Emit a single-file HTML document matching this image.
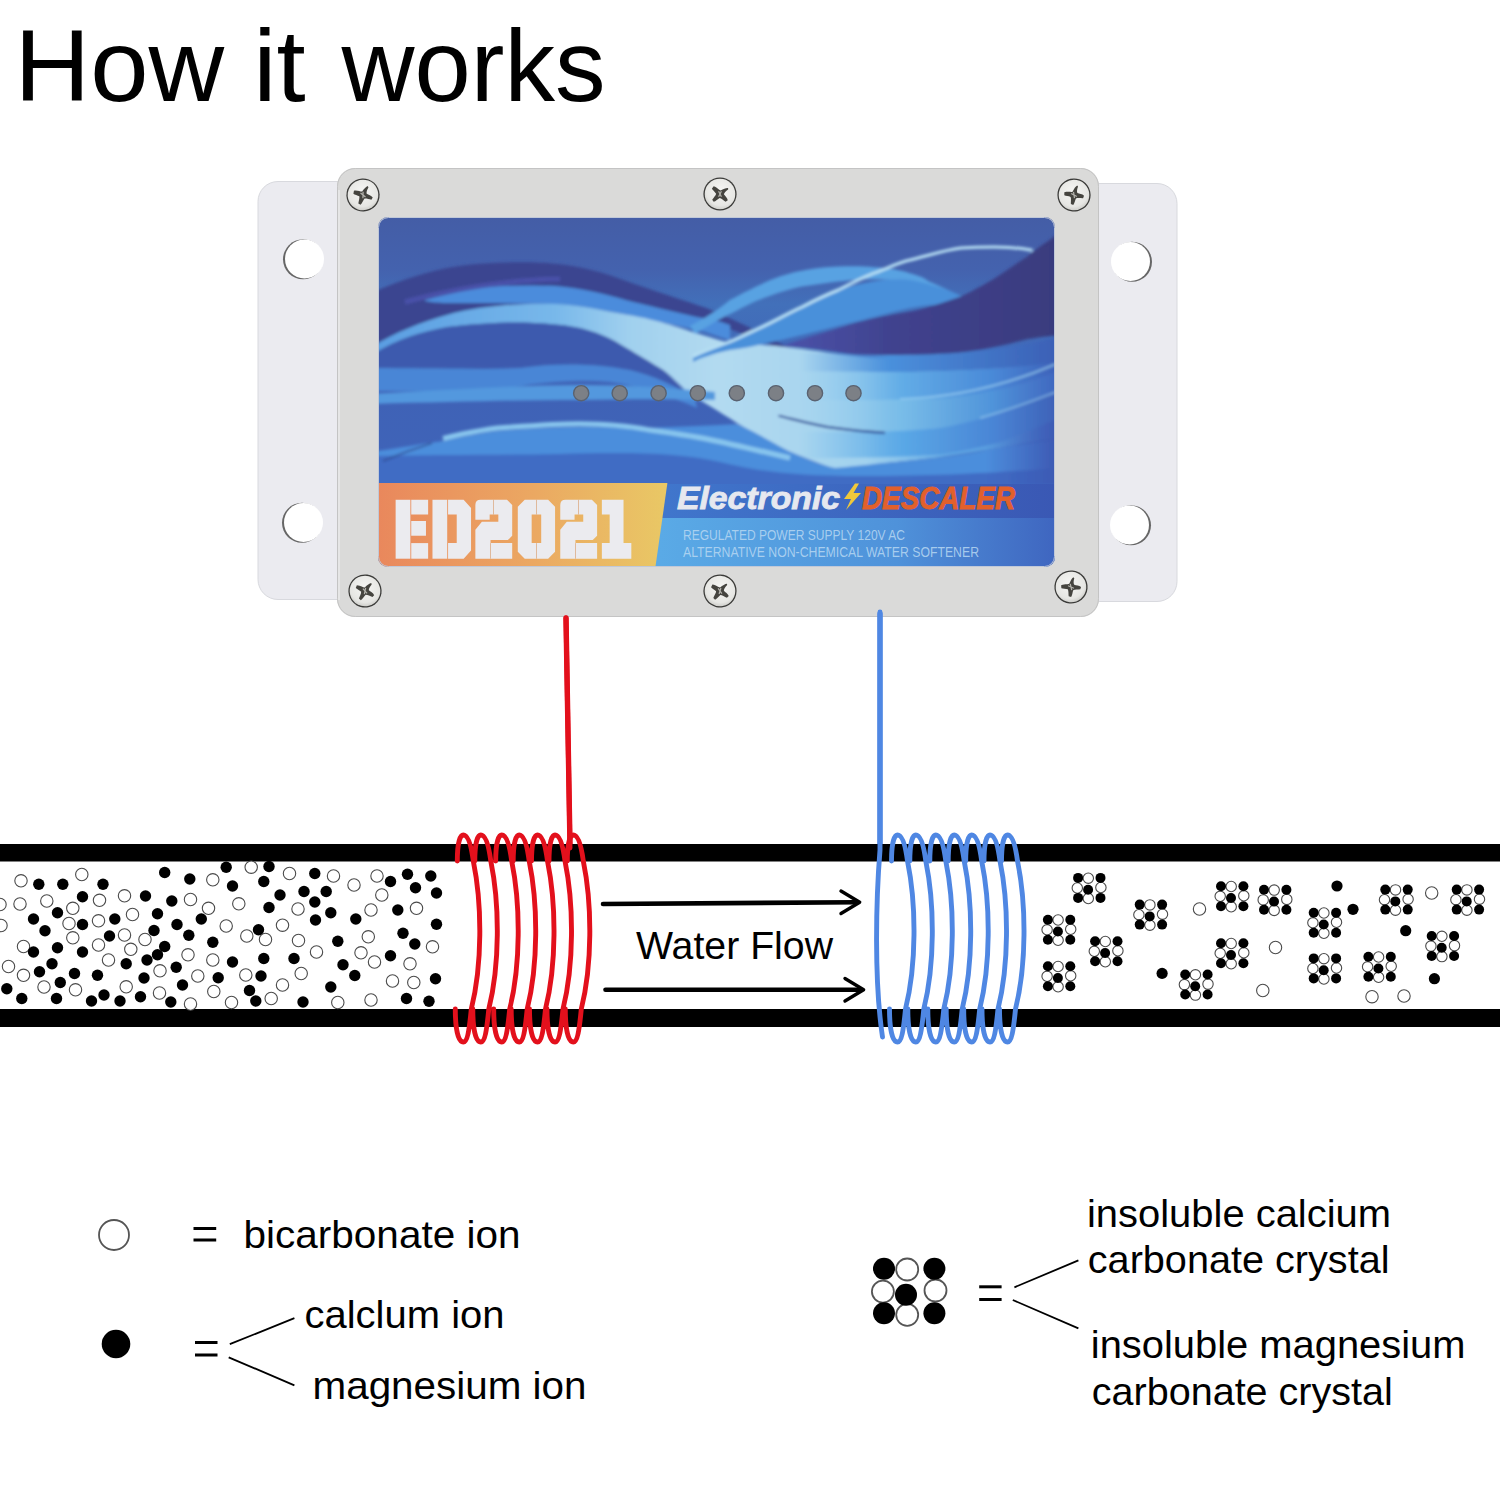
<!DOCTYPE html><html><head><meta charset="utf-8"><style>html,body{margin:0;padding:0;background:#fff;width:1500px;height:1500px;overflow:hidden}svg{display:block}text{font-family:"Liberation Sans",sans-serif}</style></head><body>
<svg width="1500" height="1500" viewBox="0 0 1500 1500">
<defs>
<g id="cr">
<g fill="#fff" stroke="#4a4a4a" stroke-width="1.1">
<circle cx="10.2" cy="0.3" r="5.2"/><circle cx="-0.8" cy="10.1" r="5.2"/><circle cx="22.8" cy="9.6" r="5.2"/><circle cx="10.2" cy="20.6" r="5.2"/>
</g>
<g fill="#000">
<circle cx="0" cy="0" r="5"/><circle cx="22.4" cy="0" r="5"/><circle cx="0" cy="20" r="5"/><circle cx="22.4" cy="20" r="5"/><circle cx="10" cy="11.8" r="5"/>
</g>
</g>
<clipPath id="labclip"><rect x="378" y="217" width="677" height="350" rx="10"/></clipPath>
<filter id="blur1" x="-5%" y="-5%" width="110%" height="110%"><feGaussianBlur stdDeviation="1.5"/></filter>
<filter id="blur3" x="-10%" y="-10%" width="120%" height="120%"><feGaussianBlur stdDeviation="4"/></filter>
<linearGradient id="orange" x1="0" x2="1" y1="0" y2="0"><stop offset="0" stop-color="#e9865c"/><stop offset="0.55" stop-color="#eba862"/><stop offset="1" stop-color="#e9c865"/></linearGradient>
<radialGradient id="screwg" cx="0.45" cy="0.4" r="0.65"><stop offset="0" stop-color="#f6f6f4"/><stop offset="0.75" stop-color="#e6e6e3"/><stop offset="1" stop-color="#c8c8c4"/></radialGradient>
</defs>

<text x="14.5" y="101.3" font-size="101.5" fill="#000" textLength="291" lengthAdjust="spacingAndGlyphs">How it</text>
<text x="341.5" y="101.3" font-size="101.5" fill="#000" textLength="264" lengthAdjust="spacingAndGlyphs">works</text>

<g id="device">
<rect x="258" y="181.5" width="100" height="418" rx="20" fill="#ebebf0" stroke="#d8d9de" stroke-width="1"/>
<rect x="1078" y="183.5" width="99" height="418" rx="20" fill="#ebebf0" stroke="#d8d9de" stroke-width="1"/>
<rect x="337" y="168" width="762" height="449" rx="18" fill="#dadad9"/>
<rect x="337.5" y="168.5" width="761" height="448" rx="18" fill="none" stroke="#c4c4c4" stroke-width="1"/>
<path d="M339,190 V600" stroke="#e6e6e6" stroke-width="2" fill="none"/>
<g>
<circle cx="303" cy="259.3" r="20" fill="#666"/><circle cx="304.5" cy="259" r="19.5" fill="#fff"/>
<circle cx="302" cy="522.8" r="20" fill="#666"/><circle cx="303.5" cy="522.5" r="19.5" fill="#fff"/>
<circle cx="1132" cy="261.8" r="20" fill="#666"/><circle cx="1130.5" cy="261.5" r="19.5" fill="#fff"/>
<circle cx="1131" cy="525.3" r="20" fill="#666"/><circle cx="1129.5" cy="525" r="19.5" fill="#fff"/>
</g>
</g>
<defs>
<g id="screw">
<circle r="16.6" fill="#3a3a38"/>
<circle r="15.3" fill="url(#screwg)"/>
<path d="M-10,-1 C-6,-3 -3,-2 -2,-3 C-1,-6 0,-9 1.5,-10 L2.5,-9 C2,-6 2,-4 3,-2.5 C5,-2 8,-2.5 10,-1 L9.5,1.5 C7,2 4,2 2.5,3 C2,5 2,8 1,10 L-1.5,9.5 C-2,7 -2,4 -3,2.5 C-5,2 -8,2.5 -9.5,2 Z" fill="#45443f"/>
<path d="M-3,-1 L3,1 M-1,-3 L1,3" stroke="#b5b4ae" stroke-width="1.2"/>
</g>
</defs>
<use href="#screw" transform="translate(363,195) rotate(20)"/>
<use href="#screw" transform="translate(720,194) rotate(45)"/>
<use href="#screw" transform="translate(1074,195) rotate(10)"/>
<use href="#screw" transform="translate(365,591) rotate(30)"/>
<use href="#screw" transform="translate(720,591) rotate(35)"/>
<use href="#screw" transform="translate(1071,587) rotate(5)"/>

<defs>
<linearGradient id="bg" x1="0" y1="217" x2="0" y2="567" gradientUnits="userSpaceOnUse"><stop offset="0" stop-color="#445da6"/><stop offset="0.15" stop-color="#4462ae"/><stop offset="0.25" stop-color="#4270ba"/><stop offset="0.5" stop-color="#3f62b6"/><stop offset="1" stop-color="#3f66bc"/></linearGradient>
<linearGradient id="navyD" x1="784" y1="0" x2="1055" y2="0" gradientUnits="userSpaceOnUse"><stop offset="0" stop-color="#4a52aa"/><stop offset="0.4" stop-color="#40428e"/><stop offset="1" stop-color="#393b7e"/></linearGradient>
<linearGradient id="paleC" x1="380" y1="0" x2="1055" y2="0" gradientUnits="userSpaceOnUse"><stop offset="0" stop-color="#5a9ee2"/><stop offset="0.26" stop-color="#78b8ea"/><stop offset="0.37" stop-color="#a0d0ee"/><stop offset="0.5" stop-color="#b2daf0"/><stop offset="0.72" stop-color="#a2d2ee"/><stop offset="0.85" stop-color="#62ace6"/><stop offset="1" stop-color="#4a86d4"/></linearGradient>
<linearGradient id="lowLB" x1="690" y1="0" x2="1055" y2="0" gradientUnits="userSpaceOnUse"><stop offset="0" stop-color="#8ccaee"/><stop offset="0.5" stop-color="#72b8ea"/><stop offset="1" stop-color="#4a86d4"/></linearGradient>
<linearGradient id="strip1" x1="666" y1="0" x2="1055" y2="0" gradientUnits="userSpaceOnUse"><stop offset="0" stop-color="#4076cc"/><stop offset="1" stop-color="#3a58b4"/></linearGradient>
<linearGradient id="strip2" x1="660" y1="0" x2="1055" y2="0" gradientUnits="userSpaceOnUse"><stop offset="0" stop-color="#5aaae6"/><stop offset="0.6" stop-color="#4f92da"/><stop offset="1" stop-color="#3f66c0"/></linearGradient>
<linearGradient id="rightdark" x1="985" y1="0" x2="1055" y2="0" gradientUnits="userSpaceOnUse"><stop offset="0" stop-color="#3d5cb8" stop-opacity="0"/><stop offset="1" stop-color="#3d5ab4" stop-opacity="1"/></linearGradient>
<linearGradient id="R1" x1="800" y1="0" x2="1055" y2="0" gradientUnits="userSpaceOnUse"><stop offset="0" stop-color="#4a90dc" stop-opacity="0"/><stop offset="0.35" stop-color="#4a90dc"/><stop offset="1" stop-color="#3b60b6"/></linearGradient>
<linearGradient id="R2" x1="800" y1="0" x2="1055" y2="0" gradientUnits="userSpaceOnUse"><stop offset="0" stop-color="#8ccaee" stop-opacity="0"/><stop offset="0.4" stop-color="#62ace6"/><stop offset="0.75" stop-color="#4a8ad8"/><stop offset="1" stop-color="#3d62ba"/></linearGradient>
<linearGradient id="R3" x1="800" y1="0" x2="1055" y2="0" gradientUnits="userSpaceOnUse"><stop offset="0" stop-color="#9ad0ee" stop-opacity="0"/><stop offset="0.4" stop-color="#78bce8"/><stop offset="0.75" stop-color="#5094da"/><stop offset="1" stop-color="#4068c0"/></linearGradient>
<linearGradient id="R4" x1="800" y1="0" x2="1055" y2="0" gradientUnits="userSpaceOnUse"><stop offset="0" stop-color="#6cb6ea" stop-opacity="0"/><stop offset="0.4" stop-color="#5aa8e6"/><stop offset="0.75" stop-color="#4a86d6"/><stop offset="1" stop-color="#3e62b8"/></linearGradient>
</defs>
<g clip-path="url(#labclip)">
<rect x="370" y="210" width="700" height="370" fill="url(#bg)"/>
<g filter="url(#blur1)">
<!-- navy A -->
<path d="M370,294 C390,284 415,275 447,268 C480,262 530,261 555,263.8 C580,266 605,273 627,281.2 C660,293 690,302 705,307.6 C740,322 765,335 790,348 L790,352 C760,342 735,330 705,320 C690,315 660,308 627,300.4 C600,293 580,288 555,286 C530,285 500,290 470,300 L380,350 L370,350 Z" fill="#3b4590"/>
<path d="M370,350 L380,346 C395,335 420,322 447,315 C470,308 495,304 555,304 L555,286 C520,285 490,292 447,292 C430,295 410,300 400,303 C385,320 375,335 370,346 Z" fill="#3b4590"/>
<!-- B sky -->
<path d="M425,300 C440,296 455,292 470,289 C500,285 530,285 555,286 C580,288 605,294 627,300.4 C650,306 680,314 705,318.4 C715,320 722,322 730,325 L730,340 C720,337 712,334 705,331.6 C680,326 650,320 627,314.8 C600,310 580,305 555,304 C520,303 480,303 447,303 C438,303 430,302 425,301 Z" fill="#4c8cdc"/>
<path d="M405,302 C430,295 470,286 520,281 C535,280 545,279 560,279" stroke="#4a52ac" stroke-width="5" fill="none" opacity="0.9"/>
<!-- C pale -->
<path d="M370,348 C390,335 420,322 447,315 C480,306 520,303 555,304 C580,305 605,311 627,314.8 C660,320 685,330 699,334 C715,339 725,342 730,342.8 C760,344 800,348 826,352.4 C860,357 890,360 910,359.6 C960,358 1010,356 1060,355 L1060,438 C1030,442 1000,448 987,449.8 C950,456 920,460 896,462 C870,465 850,468 835,469 C815,462 800,456 788,451 C770,442 752,432 737,423 C720,412 700,400 688,393 C680,385 670,375 663,370 C650,362 640,356 615,341.2 C600,333 580,326 555,324.4 C520,321 490,322 447,327 C420,332 395,340 370,356 Z" fill="url(#paleC)"/>
<!-- lens dark below C left -->
<path d="M370,356 C395,340 420,332 447,327 C490,322 520,321 555,324.4 C580,326 600,333 615,341.2 C640,356 650,362 663,370 C675,380 685,392 690,400 C660,388 620,378 580,374 C530,370 480,368 447,368 C420,368 395,368 370,368 Z" fill="#3e5aae"/>
<!-- light band H2 -->
<path d="M370,368 C420,368 480,370 520,368 C560,362 600,364 630,370 C655,376 675,386 695,398 L697,408 C670,396 640,386 610,382 C570,378 530,384 495,390 C450,392 410,391 370,391 Z" fill="#4a86d6"/>
<!-- LED band -->
<path d="M370,394 C450,390 520,385 580,385 C630,385 670,388 715,392 L715,400 C670,399 630,399 580,400 C520,400 450,402 370,404 Z" fill="#5298de"/>
<!-- lower light band -->
<path d="M370,452 C400,448 420,444 443,441 C470,435 490,431 511,430 C540,428 560,427 579,427 C610,427 630,428 647,428 C680,427 715,425 737,424 C755,432 772,442 788,451 C805,458 820,465 835,468 C860,466 880,463 896,462 C940,458 970,454 987,450 C1010,446 1035,442 1060,440 L1060,490 L370,490 Z" fill="#4c8edc"/>
<path d="M370,456 C430,455 500,455 560,454 C620,452 680,452 720,462 C760,472 800,476 860,476 C950,476 1000,472 1060,468 L1060,490 L370,490 Z" fill="#3f6cc4"/>

<path d="M443,438.5 C470,432 490,428 511,427.1 C540,425 560,423.7 579,423.7 C610,424 630,426 647,429.4 C680,434 700,437 715,440.7 C740,446 765,452 790,458" stroke="#88c6ee" stroke-width="5" fill="none"/>
<path d="M383,461 C395,456 410,450 432,443" stroke="#2f4a90" stroke-width="2" fill="none" opacity="0.7"/>
<!-- right lower dark edge -->
<rect x="985" y="360" width="75" height="125" fill="url(#rightdark)"/>
<!-- sky arc E -->
<path d="M690,326 C705,318 715,312 730,300 C745,292 755,287 766,282 C780,276 790,273 802,270.8 C815,268 828,267 838,266.6 C850,266 865,266 874,267.2 C890,268 900,270 910,273.2 C920,276 925,278 928,281 C940,286 950,291 961,296.4 L961,302 C950,296 940,292 928,289 C920,286 915,283 910,281.6 C895,280 885,279 874,279.2 C860,279 850,280 838,281.6 C825,283 815,285 802,286.4 C790,289 780,292 766,297.2 C750,303 740,309 730,314 C715,321 705,328 695,334 Z" fill="#58a2e2"/>
<!-- F band -->
<path d="M693,358 C730,341 790,310 838,290 C870,280 895,278 910,280 C930,284 950,290 961,296 L961,302 C945,304 925,305 910,308 C880,315 860,321 838,326 C790,338 750,348 730,350 C715,353 700,358 693,362 Z" fill="#4a90da"/>
<!-- navy D -->
<path d="M784,345.2 C800,340 812,336 826,332 C840,328 850,324 862,321.2 C880,317 895,314 910,311.6 C930,307 945,302 961,296.4 C975,290 985,284 994,278.8 C1005,272 1015,264 1027,256.8 C1035,250 1045,243 1051,239 L1060,232 L1060,336 C1055,336 1053,336 1051,336 C1040,337 1035,338 1027,339.3 C1015,342 1005,345 994,347 C980,350 970,351 961,352.5 C950,354 940,356 928,356.9 C915,357.5 905,358 895,358 C880,357.5 870,357 862,356 C850,354 840,352 826,350 C810,348 800,347 784,346.4 Z" fill="url(#navyD)"/>
<!-- right bands -->
<path d="M800,352 C900,358 960,354 1000,348 C1030,344 1045,340 1060,336 L1060,362 C1030,366 990,370 953,370.7 C920,372 880,373 800,371 Z" fill="url(#R1)"/>
<path d="M800,371 C880,373 920,372 953,370.7 C990,370 1030,366 1060,362 L1060,370 C1030,382 1010,388 993,390.7 C970,396 950,398 940,398.7 C900,400 870,400 800,400 Z" fill="url(#R2)"/>
<path d="M800,400 C870,400 900,400 940,398.7 C950,398 970,396 993,390.7 C1010,388 1030,382 1060,370 L1060,392 C1030,402 1010,410 993,414.7 C970,422 950,426 940,428 C900,432 870,432 800,432 Z" fill="url(#R3)"/>
<path d="M800,432 C870,432 900,432 940,428 C950,426 970,422 993,414.7 C1010,410 1030,402 1060,392 L1060,418 C1030,430 1010,440 993,444 C970,450 950,454 940,454.7 C900,457 870,458 800,458 Z" fill="url(#R4)"/>
<path d="M900,399 C950,398 1000,388 1056,364" stroke="#9fd4f2" stroke-width="1.6" fill="none" opacity="0.8"/>
<path d="M980,418 C1010,410 1030,402 1056,392" stroke="#9fd4f2" stroke-width="1.4" fill="none" opacity="0.7"/>
<!-- thin bright line G -->
<path d="M693,356 C705,351 718,346 730,341.6 C745,335 755,330 766,324.8 C780,318 790,312 802,306.8 C815,300 828,294 838,290 C850,284 862,278 874,273.2 C890,267 900,262 910,260 C930,255 945,250 961,248 C975,247 985,246.9 994,246.9 C1010,247 1020,248 1032.5,250.2" stroke="#b8e0f4" stroke-width="3" fill="none"/>
<!-- dark streak -->
<path d="M778.5,415.8 C800,421 815,425 828.3,427.1 C850,430 870,432 885,432.8" stroke="#2f4f9a" stroke-width="2.2" fill="none"/>
</g>
<!-- bottom strips -->
<path d="M660,484 L1060,484 L1060,518 L660,518 Z" fill="url(#strip1)"/>
<path d="M655,518 L1060,518 L1060,570 L650,570 Z" fill="url(#strip2)"/>
<!-- orange block -->
<path d="M370,483 L667.4,483 L655,570 L370,570 Z" fill="url(#orange)"/>
<!-- LEDs -->
<g fill="#7c8086" stroke="#5a6270" stroke-width="1.4">
<circle cx="581.2" cy="393.2" r="7.6"/><circle cx="619.7" cy="393.2" r="7.6"/><circle cx="658.6" cy="393.2" r="7.6"/><circle cx="697.8" cy="393.2" r="7.6"/><circle cx="736.8" cy="393.2" r="7.6"/><circle cx="776" cy="393.2" r="7.6"/><circle cx="815" cy="393.2" r="7.6"/><circle cx="853.5" cy="393.2" r="7.6"/>
</g>
</g>
<rect x="378.5" y="217.5" width="676" height="349" rx="10" fill="none" stroke="#c0c8d8" stroke-width="1"/>
<!-- ED2021 stencil -->
<g transform="translate(390 495) scale(0.086667)" fill="#ebebef">
<rect x="65" y="55" width="170" height="680"/>
<rect x="245" y="55" width="195" height="170"/><rect x="245" y="300" width="170" height="170"/><rect x="245" y="555" width="195" height="180"/>
<rect x="490" y="55" width="170" height="680"/>
<path d="M670,55 H850 L935,150 V640 L850,735 H670 V555 H770 V225 H670 Z"/>
<path id="two1" d="M1045,55 H1350 L1410,115 V470 L1360,520 H1160 V555 H1410 V735 H985 V400 L1060,310 H1250 V225 H1150 V285 H985 V115 Q985,55 1045,55 Z"/>
<path fill-rule="evenodd" d="M1554.6,55 H1824.6 L1904.6,135 V655 L1824.6,735 H1554.6 L1474.6,655 V135 Z M1634.6,225 V555 H1744.6 V225 Z"/>
<use href="#two1" x="979.6"/>
<path d="M2444.6,55 H2694.6 V555 H2784.6 V735 H2444.6 V555 H2534.6 V225 H2444.6 Z"/>
<g fill="#d99a68" opacity="0.7"><rect x="1190" y="55" width="10" height="170"/><rect x="1155" y="555" width="10" height="180"/><rect x="1684.6" y="55" width="10" height="170"/><rect x="1684.6" y="555" width="10" height="180"/><rect x="2169.6" y="55" width="10" height="170"/><rect x="2134.6" y="555" width="10" height="180"/></g>
</g>
<text x="677" y="508.7" font-size="32" font-weight="bold" font-style="italic" fill="#e6e8ef" stroke="#e6e8ef" stroke-width="0.9" textLength="163" lengthAdjust="spacingAndGlyphs">Electronic</text>
<path d="M855,483.5 L844,499 L851,499 L846,510 L861,493 L853.5,493 L859,483.5 Z" fill="#f0c83a"/>
<text x="862" y="508.7" font-size="32" font-weight="bold" font-style="italic" fill="#e2602c" stroke="#e2602c" stroke-width="0.9" textLength="153" lengthAdjust="spacingAndGlyphs">DESCALER</text>
<text x="683" y="540" font-size="14.5" fill="#b8d8f2" fill-opacity="0.85" textLength="222" lengthAdjust="spacingAndGlyphs">REGULATED POWER SUPPLY 120V AC</text>
<text x="683" y="556.7" font-size="14.5" fill="#b8d8f2" fill-opacity="0.85" textLength="296" lengthAdjust="spacingAndGlyphs">ALTERNATIVE NON-CHEMICAL WATER SOFTENER</text>

<path d="M566,618 L570,846" stroke="#e30b17" stroke-width="5.4" stroke-linecap="round" fill="none"/>
<path d="M880,614 L880,850" stroke="#4f87e3" stroke-width="5.4" stroke-linecap="round" fill="none"/>
<rect x="0" y="844" width="1500" height="17.5" fill="#000"/>
<rect x="0" y="1009" width="1500" height="18" fill="#000"/>
<g fill="#fff" stroke="#4a4a4a" stroke-width="1.1"><circle cx="21.0" cy="880.8" r="6.2"/><circle cx="81.8" cy="874.5" r="6.2"/><circle cx="20.0" cy="904.0" r="6.2"/><circle cx="0.0" cy="904.5" r="6.2"/><circle cx="46.8" cy="901.0" r="6.2"/><circle cx="99.5" cy="900.3" r="6.2"/><circle cx="124.5" cy="895.8" r="6.2"/><circle cx="72.8" cy="908.3" r="6.2"/><circle cx="132.5" cy="914.5" r="6.2"/><circle cx="1.0" cy="925.5" r="6.2"/><circle cx="69.0" cy="923.5" r="6.2"/><circle cx="98.5" cy="920.8" r="6.2"/><circle cx="72.8" cy="937.8" r="6.2"/><circle cx="124.5" cy="935.0" r="6.2"/><circle cx="145.0" cy="939.5" r="6.2"/><circle cx="23.5" cy="946.5" r="6.2"/><circle cx="98.5" cy="945.0" r="6.2"/><circle cx="130.8" cy="949.3" r="6.2"/><circle cx="8.5" cy="966.5" r="6.2"/><circle cx="108.5" cy="960.0" r="6.2"/><circle cx="23.5" cy="975.3" r="6.2"/><circle cx="44.0" cy="987.0" r="6.2"/><circle cx="75.5" cy="989.8" r="6.2"/><circle cx="126.2" cy="986.8" r="6.2"/><circle cx="251.2" cy="867.2" r="6.2"/><circle cx="212.8" cy="879.8" r="6.2"/><circle cx="190.5" cy="899.5" r="6.2"/><circle cx="208.5" cy="908.3" r="6.2"/><circle cx="238.8" cy="903.8" r="6.2"/><circle cx="226.2" cy="926.0" r="6.2"/><circle cx="282.5" cy="925.2" r="6.2"/><circle cx="246.8" cy="936.0" r="6.2"/><circle cx="265.5" cy="939.5" r="6.2"/><circle cx="188.0" cy="954.8" r="6.2"/><circle cx="212.8" cy="960.0" r="6.2"/><circle cx="160.0" cy="970.8" r="6.2"/><circle cx="197.8" cy="976.0" r="6.2"/><circle cx="245.8" cy="975.0" r="6.2"/><circle cx="282.5" cy="985.0" r="6.2"/><circle cx="159.5" cy="993.0" r="6.2"/><circle cx="213.8" cy="991.5" r="6.2"/><circle cx="271.2" cy="998.5" r="6.2"/><circle cx="190.5" cy="1004.0" r="6.2"/><circle cx="231.5" cy="1002.5" r="6.2"/><circle cx="289.5" cy="873.5" r="6.2"/><circle cx="333.5" cy="876.0" r="6.2"/><circle cx="354.0" cy="885.0" r="6.2"/><circle cx="377.0" cy="876.0" r="6.2"/><circle cx="381.8" cy="895.0" r="6.2"/><circle cx="298.0" cy="909.0" r="6.2"/><circle cx="371.0" cy="910.0" r="6.2"/><circle cx="416.5" cy="908.3" r="6.2"/><circle cx="298.5" cy="940.5" r="6.2"/><circle cx="368.3" cy="936.8" r="6.2"/><circle cx="432.5" cy="946.8" r="6.2"/><circle cx="316.5" cy="952.0" r="6.2"/><circle cx="361.0" cy="952.8" r="6.2"/><circle cx="374.5" cy="962.0" r="6.2"/><circle cx="410.0" cy="963.8" r="6.2"/><circle cx="301.2" cy="973.5" r="6.2"/><circle cx="392.5" cy="981.0" r="6.2"/><circle cx="413.8" cy="982.5" r="6.2"/><circle cx="337.8" cy="1002.5" r="6.2"/><circle cx="371.0" cy="1000.0" r="6.2"/></g>
<g fill="#000"><circle cx="38.8" cy="884.3" r="5.7"/><circle cx="62.8" cy="884.3" r="5.7"/><circle cx="103.0" cy="884.3" r="5.7"/><circle cx="82.5" cy="896.8" r="5.7"/><circle cx="145.5" cy="896.0" r="5.7"/><circle cx="57.5" cy="912.8" r="5.7"/><circle cx="33.5" cy="919.0" r="5.7"/><circle cx="82.5" cy="924.5" r="5.7"/><circle cx="114.8" cy="919.0" r="5.7"/><circle cx="45.0" cy="930.8" r="5.7"/><circle cx="109.5" cy="936.0" r="5.7"/><circle cx="33.5" cy="952.0" r="5.7"/><circle cx="57.5" cy="947.8" r="5.7"/><circle cx="82.5" cy="952.0" r="5.7"/><circle cx="52.0" cy="963.8" r="5.7"/><circle cx="126.2" cy="963.8" r="5.7"/><circle cx="147.0" cy="960.0" r="5.7"/><circle cx="39.5" cy="971.8" r="5.7"/><circle cx="74.5" cy="973.5" r="5.7"/><circle cx="97.5" cy="975.3" r="5.7"/><circle cx="144.0" cy="978.0" r="5.7"/><circle cx="6.8" cy="988.8" r="5.7"/><circle cx="60.3" cy="982.5" r="5.7"/><circle cx="21.8" cy="998.5" r="5.7"/><circle cx="56.5" cy="998.5" r="5.7"/><circle cx="91.5" cy="1001.0" r="5.7"/><circle cx="104.0" cy="995.0" r="5.7"/><circle cx="120.0" cy="1001.0" r="5.7"/><circle cx="140.5" cy="996.8" r="5.7"/><circle cx="164.7" cy="872.5" r="5.7"/><circle cx="189.8" cy="879.0" r="5.7"/><circle cx="226.2" cy="867.2" r="5.7"/><circle cx="269.0" cy="866.5" r="5.7"/><circle cx="232.5" cy="886.0" r="5.7"/><circle cx="263.8" cy="881.5" r="5.7"/><circle cx="171.8" cy="901.0" r="5.7"/><circle cx="280.0" cy="895.0" r="5.7"/><circle cx="157.5" cy="913.8" r="5.7"/><circle cx="269.0" cy="907.5" r="5.7"/><circle cx="201.3" cy="919.0" r="5.7"/><circle cx="177.0" cy="924.5" r="5.7"/><circle cx="154.0" cy="930.5" r="5.7"/><circle cx="188.8" cy="935.2" r="5.7"/><circle cx="212.8" cy="942.2" r="5.7"/><circle cx="258.5" cy="929.8" r="5.7"/><circle cx="164.7" cy="946.5" r="5.7"/><circle cx="157.5" cy="954.8" r="5.7"/><circle cx="176.2" cy="967.2" r="5.7"/><circle cx="232.5" cy="962.0" r="5.7"/><circle cx="263.8" cy="958.5" r="5.7"/><circle cx="218.2" cy="977.8" r="5.7"/><circle cx="261.0" cy="976.0" r="5.7"/><circle cx="182.5" cy="985.0" r="5.7"/><circle cx="249.5" cy="990.5" r="5.7"/><circle cx="170.8" cy="1002.0" r="5.7"/><circle cx="255.8" cy="1001.0" r="5.7"/><circle cx="314.8" cy="873.5" r="5.7"/><circle cx="304.0" cy="891.5" r="5.7"/><circle cx="326.2" cy="891.5" r="5.7"/><circle cx="314.8" cy="902.0" r="5.7"/><circle cx="330.8" cy="912.8" r="5.7"/><circle cx="315.5" cy="920.0" r="5.7"/><circle cx="355.8" cy="919.0" r="5.7"/><circle cx="390.5" cy="881.5" r="5.7"/><circle cx="407.5" cy="874.3" r="5.7"/><circle cx="430.8" cy="876.0" r="5.7"/><circle cx="415.5" cy="887.8" r="5.7"/><circle cx="436.5" cy="893.0" r="5.7"/><circle cx="397.8" cy="910.0" r="5.7"/><circle cx="436.5" cy="924.2" r="5.7"/><circle cx="403.0" cy="933.2" r="5.7"/><circle cx="414.8" cy="944.0" r="5.7"/><circle cx="337.8" cy="941.2" r="5.7"/><circle cx="294.0" cy="958.5" r="5.7"/><circle cx="390.5" cy="955.8" r="5.7"/><circle cx="343.0" cy="964.8" r="5.7"/><circle cx="354.8" cy="975.5" r="5.7"/><circle cx="435.5" cy="978.8" r="5.7"/><circle cx="330.8" cy="987.0" r="5.7"/><circle cx="303.0" cy="1002.0" r="5.7"/><circle cx="406.5" cy="998.5" r="5.7"/><circle cx="429.0" cy="1001.2" r="5.7"/></g>
<use href="#cr" x="1078.1" y="877.9"/><use href="#cr" x="1047.9" y="919.7"/><use href="#cr" x="1047.9" y="966.2"/><use href="#cr" x="1095.1" y="941.2"/><use href="#cr" x="1139.7" y="904.6"/><use href="#cr" x="1185.2" y="974.5"/><use href="#cr" x="1221.0" y="886.2"/><use href="#cr" x="1221.0" y="943.2"/><use href="#cr" x="1264.0" y="889.8"/><use href="#cr" x="1313.7" y="912.7"/><use href="#cr" x="1313.7" y="958.4"/><use href="#cr" x="1368.4" y="956.7"/><use href="#cr" x="1385.3" y="889.6"/><use href="#cr" x="1431.7" y="936.0"/><use href="#cr" x="1456.7" y="889.6"/>
<g fill="#fff" stroke="#4a4a4a" stroke-width="1.1"><circle cx="1199.5" cy="909.0" r="6.2"/><circle cx="1275.5" cy="947.5" r="6.2"/><circle cx="1262.8" cy="990.5" r="6.2"/><circle cx="1431.7" cy="893.0" r="6.2"/><circle cx="1372.0" cy="996.7" r="6.2"/><circle cx="1404.0" cy="996.0" r="6.2"/></g>
<g fill="#000"><circle cx="1162.1" cy="973.4" r="5.6"/><circle cx="1337.0" cy="886.0" r="5.6"/><circle cx="1353.0" cy="909.3" r="5.6"/><circle cx="1405.7" cy="930.7" r="5.6"/><circle cx="1434.4" cy="978.7" r="5.6"/></g>
<g fill="none" stroke-width="4.9" stroke-linecap="round" stroke-linejoin="round">
<g stroke="#e3101c">
<path d="M457.3,861 C457.3,846 459.3,835 463.3,835 C468.3,835 471.3,846 473.3,861 C482.3,905 482.3,965 471.3,1009 C469.3,1030 467.3,1042 463.3,1042 C458.3,1042 455.3,1030 455.3,1009 M474.8,861 C474.8,846 476.8,835 480.8,835 C485.8,835 488.8,846 490.8,861 C499.8,905 499.8,965 488.8,1009 C486.8,1030 484.8,1042 480.8,1042 C475.8,1042 472.8,1030 472.8,1009 M495.7,861 C495.7,846 497.7,835 501.7,835 C506.7,835 509.7,846 511.7,861 C520.7,905 520.7,965 509.7,1009 C507.7,1030 505.7,1042 501.7,1042 C496.7,1042 493.7,1030 493.7,1009 M513.2,861 C513.2,846 515.2,835 519.2,835 C524.2,835 527.2,846 529.2,861 C538.2,905 538.2,965 527.2,1009 C525.2,1030 523.2,1042 519.2,1042 C514.2,1042 511.2,1030 511.2,1009 M531.5,861 C531.5,846 533.5,835 537.5,835 C542.5,835 545.5,846 547.5,861 C556.5,905 556.5,965 545.5,1009 C543.5,1030 541.5,1042 537.5,1042 C532.5,1042 529.5,1030 529.5,1009 M549.0,861 C549.0,846 551.0,835 555.0,835 C560.0,835 563.0,846 565.0,861 C574.0,905 574.0,965 563.0,1009 C561.0,1030 559.0,1042 555.0,1042 C550.0,1042 547.0,1030 547.0,1009 M567.3,861 C567.3,846 569.3,835 573.3,835 C578.3,835 581.3,846 583.3,861 C592.3,905 592.3,965 581.3,1009 C579.3,1030 577.3,1042 573.3,1042 C568.3,1042 565.3,1030 565.3,1009"/>
<path d="M566,618 L570,848"/>
</g>
<g stroke="#4f87e3">
<path d="M891.5,861 C891.5,846 893.5,835 897.5,835 C902.5,835 905.5,846 907.5,861 C916.5,905 916.5,965 905.5,1009 C903.5,1030 901.5,1042 897.5,1042 C892.5,1042 889.5,1030 889.5,1009 M909.8,861 C909.8,846 911.8,835 915.8,835 C920.8,835 923.8,846 925.8,861 C934.8,905 934.8,965 923.8,1009 C921.8,1030 919.8,1042 915.8,1042 C910.8,1042 907.8,1030 907.8,1009 M929.8,861 C929.8,846 931.8,835 935.8,835 C940.8,835 943.8,846 945.8,861 C954.8,905 954.8,965 943.8,1009 C941.8,1030 939.8,1042 935.8,1042 C930.8,1042 927.8,1030 927.8,1009 M948.2,861 C948.2,846 950.2,835 954.2,835 C959.2,835 962.2,846 964.2,861 C973.2,905 973.2,965 962.2,1009 C960.2,1030 958.2,1042 954.2,1042 C949.2,1042 946.2,1030 946.2,1009 M965.7,861 C965.7,846 967.7,835 971.7,835 C976.7,835 979.7,846 981.7,861 C990.7,905 990.7,965 979.7,1009 C977.7,1030 975.7,1042 971.7,1042 C966.7,1042 963.7,1030 963.7,1009 M984.0,861 C984.0,846 986.0,835 990.0,835 C995.0,835 998.0,846 1000.0,861 C1009.0,905 1009.0,965 998.0,1009 C996.0,1030 994.0,1042 990.0,1042 C985.0,1042 982.0,1030 982.0,1009 M1001.5,861 C1001.5,846 1003.5,835 1007.5,835 C1012.5,835 1015.5,846 1017.5,861 C1026.5,905 1026.5,965 1015.5,1009 C1013.5,1030 1011.5,1042 1007.5,1042 C1002.5,1042 999.5,1030 999.5,1009"/>
<path d="M880,612 L880,850 C876,900 874,980 882.5,1037"/>
</g>
</g>

<g stroke="#000" fill="none" stroke-linecap="round" stroke-linejoin="round">
<path d="M603,904 L857,902.2" stroke-width="4.6"/>
<path d="M841,891 L859.7,902.2 L841,913.5" stroke-width="3.4"/>
<path d="M605.5,989.8 L861,989.8" stroke-width="4.6"/>
<path d="M845,978.5 L863.6,989.8 L845,1001" stroke-width="3.4"/>
</g>
<text x="636" y="958.9" font-size="38.5" fill="#000" textLength="197" lengthAdjust="spacingAndGlyphs">Water Flow</text>

<circle cx="114" cy="1235" r="15" fill="#fff" stroke="#555" stroke-width="1.8"/>
<g fill="#000">
<rect x="193.5" y="1227" width="22.7" height="3"/><rect x="193.5" y="1238.5" width="22.7" height="3"/>
</g>
<text x="243.5" y="1247.8" font-size="38.5" fill="#000" textLength="277" lengthAdjust="spacingAndGlyphs">bicarbonate ion</text>
<circle cx="116" cy="1344" r="14.3" fill="#000"/>
<g fill="#000">
<rect x="195" y="1341" width="22.5" height="3"/><rect x="195" y="1353.5" width="22.5" height="3"/>
</g>
<path d="M229.8,1344.2 L294.4,1318.1 M228.7,1357.3 L294.4,1385.3" stroke="#000" stroke-width="1.8" fill="none"/>
<text x="304.5" y="1328.2" font-size="38.5" fill="#000" textLength="200" lengthAdjust="spacingAndGlyphs">calclum ion</text>
<text x="312.5" y="1398.5" font-size="38.5" fill="#000" textLength="274" lengthAdjust="spacingAndGlyphs">magnesium ion</text>
<!-- right legend crystal -->
<g fill="#fff" stroke="#555" stroke-width="1.8">
<circle cx="907.2" cy="1269.5" r="11"/><circle cx="882.9" cy="1291.6" r="11"/><circle cx="935.5" cy="1290.5" r="11"/><circle cx="907.2" cy="1314.8" r="11"/>
</g>
<g fill="#000">
<circle cx="884" cy="1268.7" r="11"/><circle cx="934.4" cy="1268.7" r="11"/><circle cx="906" cy="1294.8" r="11"/><circle cx="884" cy="1313.2" r="11"/><circle cx="934.4" cy="1313.2" r="11"/>
</g>
<g fill="#000">
<rect x="979.2" y="1285.3" width="22.4" height="3"/><rect x="979.2" y="1298" width="22.4" height="3"/>
</g>
<path d="M1014.4,1287.3 L1078.4,1260.4 M1012.8,1300 L1078.4,1328.4" stroke="#000" stroke-width="1.8" fill="none"/>
<text x="1087" y="1226.8" font-size="38.5" fill="#000" textLength="304" lengthAdjust="spacingAndGlyphs">insoluble calcium</text>
<text x="1087.8" y="1273.2" font-size="38.5" fill="#000" textLength="301.7" lengthAdjust="spacingAndGlyphs">carbonate crystal</text>
<text x="1090.8" y="1357.9" font-size="38.5" fill="#000" textLength="374.7" lengthAdjust="spacingAndGlyphs">insoluble magnesium</text>
<text x="1091.8" y="1404.8" font-size="38.5" fill="#000" textLength="301" lengthAdjust="spacingAndGlyphs">carbonate crystal</text>

</svg></body></html>
